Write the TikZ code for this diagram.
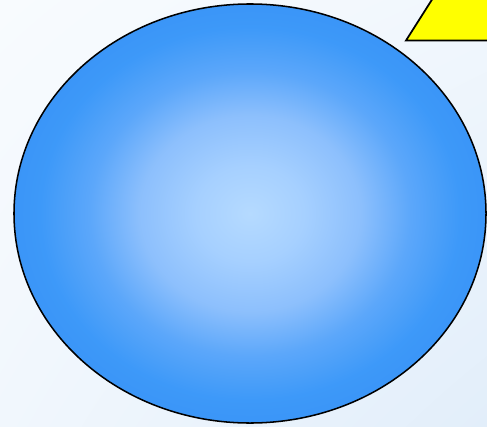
\documentclass[tikz,border=0pt]{standalone}
\usetikzlibrary{shapes.geometric, shadings}
\definecolor{bgwhite}{HTML}{F8FBFE}
\definecolor{bgmid}{HTML}{F1F7FD}
\definecolor{bgblue}{HTML}{E2EEFA}
\definecolor{myyellow}{HTML}{FFFF00}
\pgfdeclareradialshading{ballshade}{\pgfpoint{0bp}{0bp}}{%
  rgb(0bp)=(0.71,0.855,1);
  rgb(5.75bp)=(0.65,0.815,1);
  rgb(11.75bp)=(0.55,0.75,0.99);
  rgb(17bp)=(0.36,0.655,0.98);
  rgb(22.25bp)=(0.24,0.6,0.975);
  rgb(25bp)=(0.23,0.585,0.97);
  rgb(50bp)=(0.23,0.585,0.97)}
\tikzset{
	ballnode/.style={
			ellipse,
			draw=black,
			line width=1.3pt,
			shading=ballshade,
			minimum width=14.16cm,
			minimum height=12.57cm,
			inner sep=0pt
		},
	tagshape/.style={
			draw=black,
			line width=1.5pt,
			fill=myyellow
		}
}

\begin{document}
\begin{tikzpicture}[x=0.03cm, y=-0.03cm]
\useasboundingbox (0,0) rectangle (487,426);
\clip (0,0) rectangle (487,426);
\shade[upper left=bgwhite, upper right=bgmid, lower left=bgmid, lower right=bgblue] (0,0) rectangle (487,426);

\node[ballnode] (ball) at (250,213.5) {};

\coordinate (tagA) at (406,40.5);
\coordinate (tagB) at (433,-2);
\coordinate (tagC) at (492,-2);
\coordinate (tagD) at (492,40.5);
\draw[tagshape] (tagA) -- (tagB) -- (tagC) -- (tagD) -- cycle;
\end{tikzpicture}
\end{document}
